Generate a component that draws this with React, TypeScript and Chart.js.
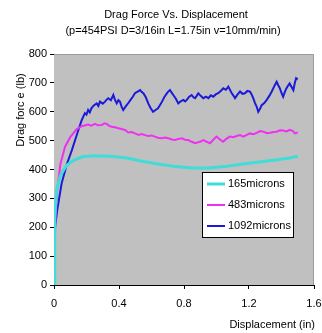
import React, { useEffect, useRef } from "react";
import { Chart, registerables } from "chart.js";

Chart.register(...registerables);

const TITLE_LINE1 = "Drag Force Vs. Displacement";
const TITLE_LINE2 = "(p=454PSI D=3/16in L=1.75in v=10mm/min)";
const X_TITLE = "Displacement (in)";
const Y_TITLE = "Drag forc e (lb)";

const seriesNames = ["165microns", "483microns", "1092microns"];
const seriesColors = ["#40dcd8", "#f030f0", "#1a1ad8"];
const seriesWidths = [3, 2, 2];

const xTickValues = [0, 0.4, 0.8, 1.2, 1.6];
const yTickValues = [0, 100, 200, 300, 400, 500, 600, 700, 800];

// 165 microns
const disp165 = [0, 0.003, 0.006, 0.016, 0.04, 0.078, 0.12, 0.18, 0.25, 0.35, 0.45, 0.55, 0.65, 0.75, 0.85, 0.95, 1.05, 1.15, 1.25, 1.35, 1.45, 1.5];
const force165 = [0, 120, 236, 329, 380, 415, 432, 445, 448, 446, 440, 428, 418, 410, 405, 405, 410, 418, 425, 432, 440, 446];

// 483 microns
const disp483 = [0, 0.003, 0.008, 0.02, 0.04, 0.068, 0.1, 0.14, 0.17, 0.21, 0.23, 0.252, 0.27, 0.293, 0.31, 0.324, 0.34, 0.355, 0.375, 0.396, 0.415, 0.437, 0.457, 0.478, 0.498, 0.52, 0.54, 0.56, 0.58, 0.6, 0.62, 0.64, 0.663, 0.683, 0.703, 0.725, 0.745, 0.765, 0.786, 0.806, 0.826, 0.848, 0.868, 0.898, 0.919, 0.94, 0.96, 0.98, 1.0, 1.02, 1.04, 1.06, 1.083, 1.104, 1.124, 1.145, 1.165, 1.186, 1.206, 1.227, 1.247, 1.268, 1.288, 1.31, 1.33, 1.35, 1.37, 1.39, 1.41, 1.43, 1.452, 1.47, 1.483, 1.5];
const force483 = [0, 100, 220, 330, 420, 479, 512, 540, 550, 556, 552, 558, 553, 554, 560, 558, 551, 548, 546, 543, 540, 537, 528, 530, 525, 520, 523, 519, 516, 518, 514, 510, 508, 511, 508, 504, 502, 506, 508, 503, 502, 496, 491, 496, 502, 496, 491, 503, 514, 505, 496, 506, 514, 512, 516, 519, 514, 520, 525, 522, 527, 533, 531, 526, 527, 530, 531, 536, 535, 532, 537, 533, 525, 528];

// 1092 microns
const disp1092 = [0, 0.003, 0.006, 0.02, 0.047, 0.08, 0.11, 0.15, 0.17, 0.19, 0.2, 0.21, 0.22, 0.23, 0.245, 0.263, 0.273, 0.283, 0.3, 0.314, 0.324, 0.334, 0.35, 0.365, 0.376, 0.386, 0.396, 0.406, 0.416, 0.426, 0.437, 0.447, 0.46, 0.47, 0.485, 0.498, 0.515, 0.53, 0.54, 0.55, 0.565, 0.58, 0.595, 0.61, 0.625, 0.64, 0.66, 0.68, 0.7, 0.714, 0.724, 0.734, 0.75, 0.765, 0.78, 0.796, 0.807, 0.817, 0.832, 0.847, 0.858, 0.868, 0.878, 0.888, 0.903, 0.919, 0.935, 0.95, 0.965, 0.98, 0.995, 1.01, 1.026, 1.042, 1.058, 1.073, 1.084, 1.094, 1.104, 1.114, 1.13, 1.145, 1.16, 1.175, 1.19, 1.206, 1.216, 1.226, 1.237, 1.247, 1.257, 1.268, 1.278, 1.294, 1.309, 1.325, 1.34, 1.355, 1.37, 1.38, 1.39, 1.4, 1.41, 1.42, 1.43, 1.44, 1.45, 1.462, 1.473, 1.482, 1.49, 1.5];
const force1092 = [0, 100, 190, 260, 352, 420, 467, 537, 570, 595, 590, 606, 598, 612, 622, 629, 620, 635, 628, 635, 642, 647, 640, 658, 640, 629, 640, 635, 618, 606, 615, 623, 632, 640, 652, 664, 670, 675, 668, 664, 650, 629, 612, 600, 606, 612, 630, 652, 668, 675, 666, 658, 645, 629, 636, 641, 636, 641, 652, 658, 650, 647, 655, 664, 655, 647, 652, 647, 657, 652, 660, 664, 672, 681, 676, 687, 675, 664, 656, 647, 660, 670, 662, 664, 672, 670, 660, 647, 630, 618, 600, 610, 623, 630, 641, 655, 670, 688, 704, 692, 681, 665, 652, 668, 681, 690, 698, 686, 675, 700, 716, 712];

const dispSets = [disp165, disp483, disp1092];
const forceSets = [force165, force483, force1092];

const FONT = "'Liberation Sans', Arial, sans-serif";

const decorPlugin = {
  id: "decor",
  beforeDatasetsDraw(chart: any) {
    const { ctx, chartArea } = chart;
    ctx.save();
    ctx.fillStyle = "#c0c0c0";
    ctx.fillRect(chartArea.left, chartArea.top, chartArea.right - chartArea.left, chartArea.bottom - chartArea.top);
    ctx.strokeStyle = "#9a9a9a";
    ctx.lineWidth = 1;
    ctx.beginPath();
    ctx.moveTo(chartArea.left, chartArea.top + 0.5);
    ctx.lineTo(chartArea.right - 0.5, chartArea.top + 0.5);
    ctx.lineTo(chartArea.right - 0.5, chartArea.bottom);
    ctx.stroke();
    ctx.restore();
  },
  afterDraw(chart: any) {
    const { ctx } = chart;
    ctx.save();
    ctx.fillStyle = "#000";
    ctx.font = `11px ${FONT}`;
    ctx.textAlign = "center";
    ctx.textBaseline = "middle";
    ctx.fillText(TITLE_LINE1, 176, 15);
    ctx.fillText(TITLE_LINE2, 173, 31);
    // x title
    ctx.textAlign = "right";
    ctx.fillText(X_TITLE, 315, 325);
    // y title
    ctx.save();
    ctx.translate(21, 110);
    ctx.rotate(-Math.PI / 2);
    ctx.textAlign = "center";
    ctx.fillText(Y_TITLE, 0, 0);
    ctx.restore();
    // legend
    const lx = 202, ly = 172, lw = 91, lh = 65;
    ctx.fillStyle = "#ffffff";
    ctx.fillRect(lx, ly, lw, lh);
    ctx.strokeStyle = "#000";
    ctx.lineWidth = 1;
    ctx.strokeRect(lx + 0.5, ly + 0.5, lw, lh);
    chart.data.datasets.forEach((ds: any, i: number) => {
      const y = ly + 12 + i * 21;
      ctx.strokeStyle = ds.borderColor;
      ctx.lineWidth = ds.borderWidth;
      ctx.beginPath();
      ctx.moveTo(lx + 5, y);
      ctx.lineTo(lx + 23, y);
      ctx.stroke();
      ctx.fillStyle = "#000";
      ctx.textAlign = "left";
      ctx.fillText(ds.label, lx + 26, y);
    });
    ctx.restore();
  },
};

export default function App() {
  const ref = useRef<HTMLCanvasElement>(null);
  useEffect(() => {
    if (!ref.current) return;
    const chart = new Chart(ref.current, {
      type: "line",
      data: {
        datasets: seriesNames.map((name, i) => ({
          label: name,
          data: dispSets[i].map((d, j) => ({ x: d, y: forceSets[i][j] })),
          borderColor: seriesColors[i],
          borderWidth: seriesWidths[i],
          pointRadius: 0,
          tension: 0,
          fill: false,
        })),
      },
      options: {
        responsive: false,
        animation: false,
        layout: { padding: { left: 0, top: 54, right: 8, bottom: 0 } },
        plugins: {
          legend: { display: false },
          title: { display: false },
          tooltip: { enabled: false },
        },
        scales: {
          x: {
            type: "linear",
            min: 0,
            max: 1.6,
            afterFit: (s: any) => {
              s.height = 48;
              s.paddingLeft = 0;
              s.paddingRight = 0;
            },
            afterBuildTicks: (s: any) => {
              s.ticks = xTickValues.map((v) => ({ value: v }));
            },
            ticks: {
              color: "#000",
              font: { family: FONT, size: 11 },
              padding: 8,
              maxRotation: 0,
              callback: (v: any) => String(v),
            },
            grid: { drawOnChartArea: false, tickLength: 4, color: "#000" },
            border: { color: "#000" },
          },
          y: {
            min: 0,
            max: 800,
            afterFit: (s: any) => {
              s.width = 54;
              s.paddingTop = 0;
              s.paddingBottom = 0;
            },
            afterBuildTicks: (s: any) => {
              s.ticks = yTickValues.map((v) => ({ value: v }));
            },
            ticks: {
              color: "#000",
              font: { family: FONT, size: 11 },
              padding: 3,
            },
            grid: { drawOnChartArea: false, tickLength: 4, color: "#000" },
            border: { color: "#000" },
          },
        },
      },
      plugins: [decorPlugin],
    } as any);
    return () => chart.destroy();
  }, []);
  return (
    <div style={{ position: "fixed", left: 0, top: 0, width: 322, height: 333, background: "#fff" }}>
      <canvas ref={ref} width={322} height={333} />
    </div>
  );
}
